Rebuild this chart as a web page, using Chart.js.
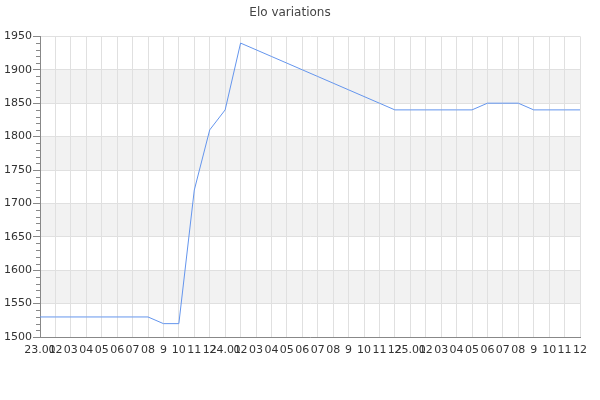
<!DOCTYPE html>
<html>
<head>
<meta charset="utf-8">
<script src="https://cdn.jsdelivr.net/npm/chart.js@4/dist/chart.umd.min.js"></script>
<style>
  html, body { margin: 0; padding: 0; background: #fff; }
  #wrap { width: 600px; height: 400px; }
</style>
</head>
<body>
<div id="wrap"><canvas id="myChart" width="600" height="400"></canvas></div>
<script>
// month labels, three years
var labels = [
    '23.01', '02', '03', '04', '05', '06', '07', '08', '9', '10', '11', '12',
    '24.01', '02', '03', '04', '05', '06', '07', '08', '9', '10', '11', '12',
    '25.01', '02', '03', '04', '05', '06', '07', '08', '9', '10', '11', '12'
];
var elo = [
    1530, 1530, 1530, 1530, 1530, 1530, 1530, 1530, 1520, 1520, 1720, 1810,
    1840, 1940, 1930, 1920, 1910, 1900, 1890, 1880, 1870, 1860, 1850, 1840,
    1840, 1840, 1840, 1840, 1840, 1850, 1850, 1850, 1840, 1840, 1840, 1840
];
var yMin = 1500, yMax = 1950, yStep = 50, yMinor = 10;

// grey bands between every other pair of major ticks + minor tick marks
var bandsPlugin = {
    id: 'bands',
    beforeDraw: function (chart) {
        var ctx = chart.ctx, area = chart.chartArea, y = chart.scales.y;
        ctx.save();
        ctx.fillStyle = '#f2f2f2';
        for (var v = yMin + yStep; v < yMax; v += yStep * 2) {
            var top = y.getPixelForValue(v + yStep), bot = y.getPixelForValue(v);
            ctx.fillRect(area.left, top, area.right - area.left, bot - top);
        }
        ctx.restore();
    },
    afterDraw: function (chart) {
        var ctx = chart.ctx, area = chart.chartArea, y = chart.scales.y;
        ctx.save();
        ctx.strokeStyle = '#888';
        ctx.lineWidth = 1;
        ctx.beginPath();
        for (var v = yMin; v <= yMax; v += yMinor) {
            if ((v - yMin) % yStep === 0) continue;
            var py = Math.round(y.getPixelForValue(v)) + 0.5;
            ctx.moveTo(area.left - 4, py);
            ctx.lineTo(area.left, py);
        }
        ctx.stroke();
        ctx.restore();
    }
};

var ctx = document.getElementById('myChart').getContext('2d');
new Chart(ctx, {
    type: 'line',
    data: {
        labels: labels,
        datasets: [{
            label: 'Elo',
            data: elo,
            borderColor: '#6495ed',
            borderWidth: 1,
            pointRadius: 0,
            tension: 0,
            fill: false
        }]
    },
    options: {
        responsive: false,
        animation: false,
        layout: { padding: { left: 0, right: 20, top: 0, bottom: 0 } },
        plugins: {
            legend: { display: false },
            tooltip: { enabled: false },
            title: {
                display: true,
                text: 'Elo variations',
                color: '#444',
                font: { family: 'DejaVu Sans', size: 12, weight: 'normal' },
                padding: { top: 6, bottom: 16 }
            }
        },
        scales: {
            x: {
                offset: false,
                grid: { color: '#e0e0e0', drawTicks: false },
                border: { color: '#888' },
                ticks: {
                    autoSkip: false, maxRotation: 0, minRotation: 0,
                    color: '#333', padding: 7,
                    font: { family: 'DejaVu Sans', size: 11 }
                },
                afterFit: function (scale) { scale.height = 63; }
            },
            y: {
                min: yMin, max: yMax,
                ticks: {
                    stepSize: yStep, color: '#333', padding: 1,
                    font: { family: 'DejaVu Sans', size: 11 },
                    callback: function (v) { return String(v); }
                },
                grid: { color: '#e0e0e0', tickColor: '#888', tickLength: 7 },
                border: { color: '#888' },
                afterFit: function (scale) { scale.width = 40; }
            }
        }
    },
    plugins: [bandsPlugin]
});
</script>
</body>
</html>
